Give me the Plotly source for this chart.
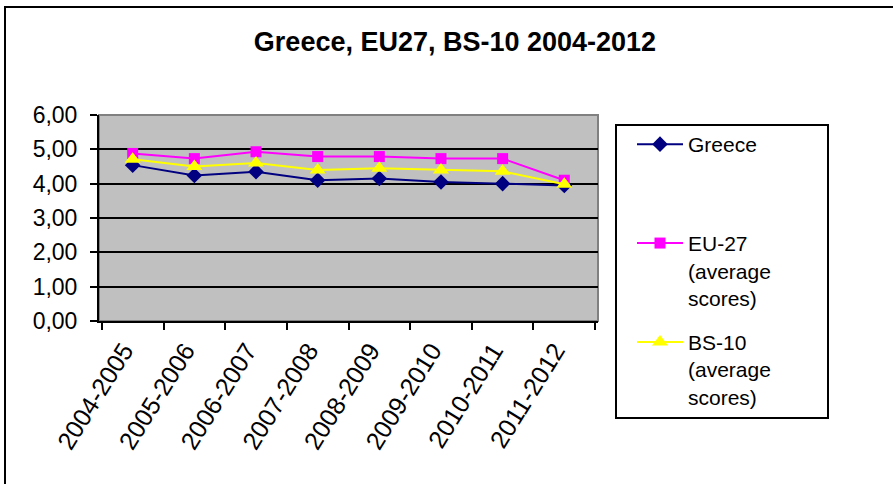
import plotly.graph_objects as go

# Survey periods and average scores per group
periods = ["2004-2005", "2005-2006", "2006-2007", "2007-2008",
           "2008-2009", "2009-2010", "2010-2011", "2011-2012"]
greece = [4.54, 4.24, 4.35, 4.10, 4.15, 4.05, 4.00, 3.95]
eu27 = [4.88, 4.73, 4.93, 4.79, 4.79, 4.73, 4.73, 4.10]
bs10 = [4.71, 4.50, 4.60, 4.40, 4.45, 4.40, 4.36, 3.98]

FONT = "Liberation Sans, Arial, sans-serif"

fig = go.Figure()
fig.add_trace(go.Scatter(
    x=periods, y=greece, mode="lines+markers",
    name="Greece<br>\u00a0<br>\u00a0", legendgroup="g1",
    line=dict(color="#000080", width=2),
    marker=dict(symbol="diamond", size=12, color="#000080"),
))
fig.add_trace(go.Scatter(
    x=periods, y=eu27, mode="lines+markers",
    name="EU-27<br>(average<br>scores)", legendgroup="g2",
    line=dict(color="#FF00FF", width=2),
    marker=dict(symbol="square", size=11, color="#FF00FF"),
))
fig.add_trace(go.Scatter(
    x=periods, y=bs10, mode="lines+markers",
    name="BS-10<br>(average<br>scores)", legendgroup="g3",
    line=dict(color="#FFFF00", width=2),
    marker=dict(symbol="triangle-up", size=14, color="#FFFF00"),
))

# plot area geometry (pixels) used to place paper-referenced shapes
L, R, T, B = 99, 598, 115, 321
W, H = R - L, B - T


def px(x):
    return (x - L) / W


def py(y):
    return (B - y) / H


shapes = [
    # outer chart frame: left and top edges
    dict(type="path", xref="paper", yref="paper",
         path=f"M {px(5)},{py(495)} L {px(5)},{py(7)} L {px(900)},{py(7)}",
         line=dict(color="black", width=2), layer="above"),
    # plot area frame (grey on top/right)
    dict(type="rect", xref="paper", yref="paper",
         x0=0, x1=1, y0=0, y1=1,
         line=dict(color="#808080", width=2), layer="below"),
    # legend frame
    dict(type="rect", xref="paper", yref="paper",
         x0=px(616), x1=px(828), y0=py(418), y1=py(125),
         line=dict(color="black", width=2), layer="above"),
]

fig.update_layout(
    width=893, height=484,
    margin=dict(l=L, r=893 - R, t=T, b=484 - B),
    paper_bgcolor="white",
    plot_bgcolor="#C0C0C0",
    separators=",.",
    font=dict(family=FONT, size=21, color="black"),
    title=dict(text="<b>Greece, EU27, BS-10 2004-2012</b>",
               font=dict(family=FONT, size=27, color="black"),
               xref="container", yref="container",
               x=455 / 893, xanchor="center",
               y=1 - 42 / 484, yanchor="middle"),
    shapes=shapes,
    showlegend=True,
    legend=dict(
        x=px(632), xanchor="left",
        y=py(124), yanchor="top",
        bgcolor="rgba(0,0,0,0)", borderwidth=0,
        font=dict(family=FONT, size=21, color="black"),
        valign="top", tracegroupgap=14, itemwidth=46,
        maxheight=400,
        itemclick=False, itemdoubleclick=False,
    ),
    xaxis=dict(
        type="category", tickson="boundaries",
        ticks="outside", ticklen=7, tickwidth=2, tickcolor="black",
        tickangle=-58, showgrid=False,
        ticklabelshift=-9, ticklabelstandoff=3,
        showline=True, linecolor="black", linewidth=2,
        tickfont=dict(family=FONT, size=25, color="black"),
        fixedrange=True,
    ),
    yaxis=dict(
        range=[0, 6], dtick=1, tick0=0, tickformat=".2f",
        ticks="outside", ticklen=7, tickwidth=2, tickcolor="black",
        ticklabelstandoff=8,
        showgrid=True, gridcolor="black", gridwidth=2,
        zeroline=False,
        showline=True, linecolor="black", linewidth=2,
        tickfont=dict(family=FONT, size=23, color="black"),
        fixedrange=True,
    ),
)

fig.write_html(
    "out.html",
    config=dict(displayModeBar=False),
    post_script=("document.documentElement.style.overflow='hidden';"
                 "document.body.style.overflow='hidden';"
                 "document.body.style.margin='0';"),
)
